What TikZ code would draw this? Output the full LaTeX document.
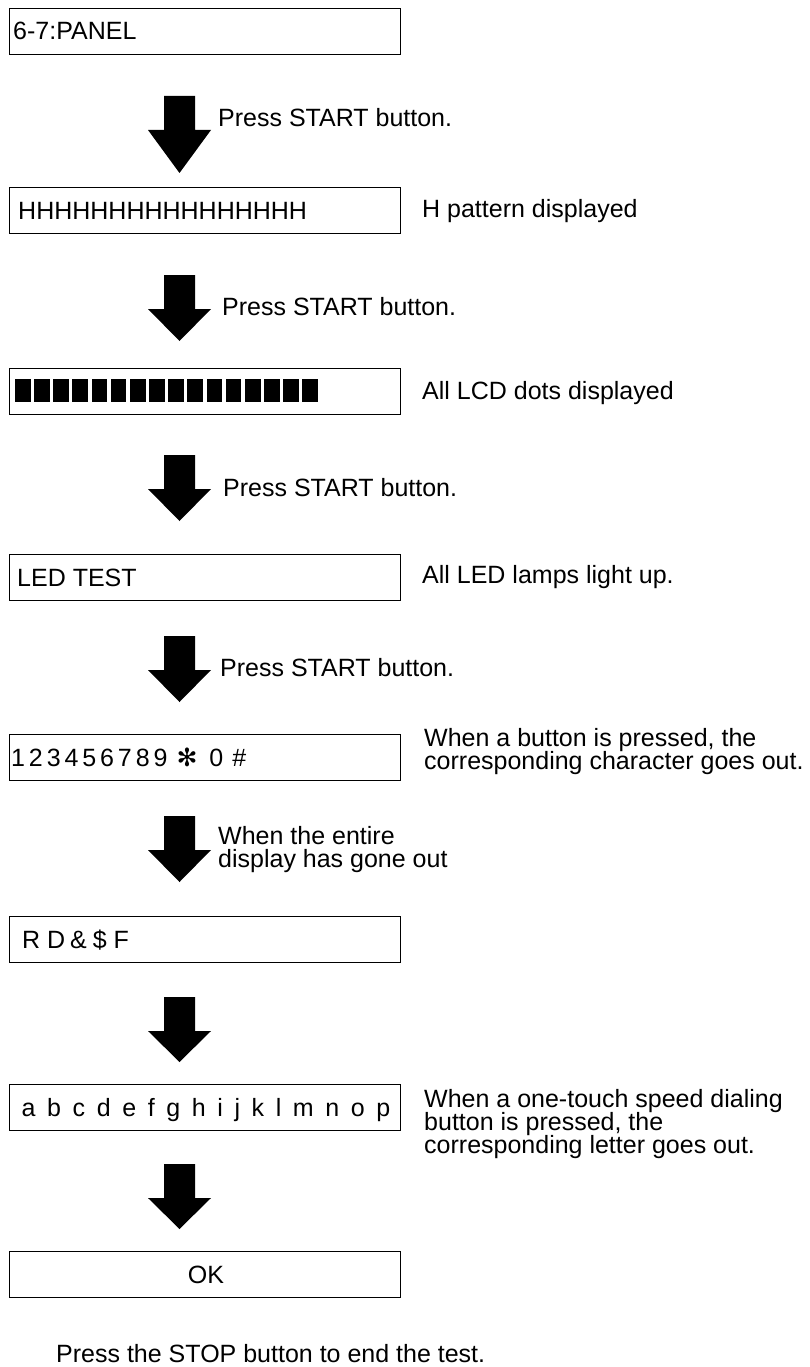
\documentclass[tikz,border=0pt]{standalone}
\usepackage{fontspec}
\setmainfont{Liberation Sans}
\newfontfamily\djv{DejaVu Sans}
\newcommand\blkarrow[3]{\fill (164,#1) -- (195,#1) -- (195,#2) -- (211,#2) -- (179.5,#3) -- (148,#2) -- (164,#2) -- cycle;}
\newcommand\dgap{\hspace{3.9pt}}
\newcommand\lgap{\hspace{11.6pt}}
\begin{document}
\begin{tikzpicture}[x=1pt,y=-1pt,
  box/.style={draw, line width=1.4pt, anchor=north west, minimum width=391pt, minimum height=46pt, inner sep=0pt},
  txt/.style={anchor=base west, inner sep=0pt, font=\fontsize{25}{21}\selectfont},
  ctxt/.style={anchor=base, inner sep=0pt, font=\fontsize{25}{21}\selectfont},
]
\useasboundingbox (0,0) rectangle (810,1367);
% boxes
\node[box] (b1) at (9,8) {};
\node[box] (b2) at (9,187) {};
\node[box] (b3) at (9,368) {};
\node[box] (b4) at (9,554) {};
\node[box] (b5) at (9,734) {};
\node[box] (b6) at (9,916) {};
\node[box] (b7) at (9,1084) {};
\node[box] (b8) at (9,1251) {};
% box texts
\node[txt] (t1) at (13,40) {6-7:PANEL};
\node[txt] (t2) at (18,219) {HHHHHHHHHHHHHHHH};
\foreach \i in {0,...,15} \fill (15+19.15*\i,379) rectangle ++(15.7,23);
\node[txt] (t4) at (17,586) {LED TEST};
\node[txt] (t5) at (11,766) {1\dgap2\dgap3\dgap4\dgap5\dgap6\dgap7\dgap8\dgap9\hspace{9pt}{\djv ✻}\hspace{12pt}0\hspace{9pt}\#};
\node[txt] (t6) at (22,948) {R D\hspace{-2pt} \&\hspace{-1pt} \$ F};
\node[ctxt] (t7) at (206,1116) {a\lgap b\lgap c\lgap d\lgap e\lgap f\lgap g\lgap h\lgap i\lgap j\lgap k\lgap l\lgap m\lgap n\lgap o\lgap p};
\node[ctxt] (t8) at (206,1283) {OK};
% arrows
\blkarrow{96}{130}{173}
\blkarrow{275}{309}{341}
\blkarrow{455}{489}{521}
\blkarrow{636}{670}{702}
\blkarrow{816}{850}{882}
\blkarrow{997}{1031}{1062}
\blkarrow{1164}{1198}{1229}
% arrow labels
\node[txt] (l1) at (218,127) {Press START button.};
\node[txt] (l2) at (222,315) {Press START button.};
\node[txt] (l3) at (223,496) {Press START button.};
\node[txt] (l4) at (220,676) {Press START button.};
\node[txt] (l5a) at (218,844) {When the entire};
\node[txt] (l5b) at (218,867) {display has gone out};
% annotations
\node[txt] (a2) at (422,217) {H pattern displayed};
\node[txt] (a3) at (422,399) {All LCD dots displayed};
\node[txt] (a4) at (422,583) {All LED lamps light up.};
\node[txt] (a5a) at (424,746) {When a button is pressed, the};
\node[txt] (a5b) at (424,769) {corresponding character goes out.};
\node[txt] (a7a) at (424,1107) {When a one-touch speed dialing};
\node[txt] (a7b) at (424,1130) {button is pressed, the};
\node[txt] (a7c) at (424,1153) {corresponding letter goes out.};
\node[txt] (fin) at (56,1362) {Press the STOP button to end the test.};
\end{tikzpicture}
\end{document}
